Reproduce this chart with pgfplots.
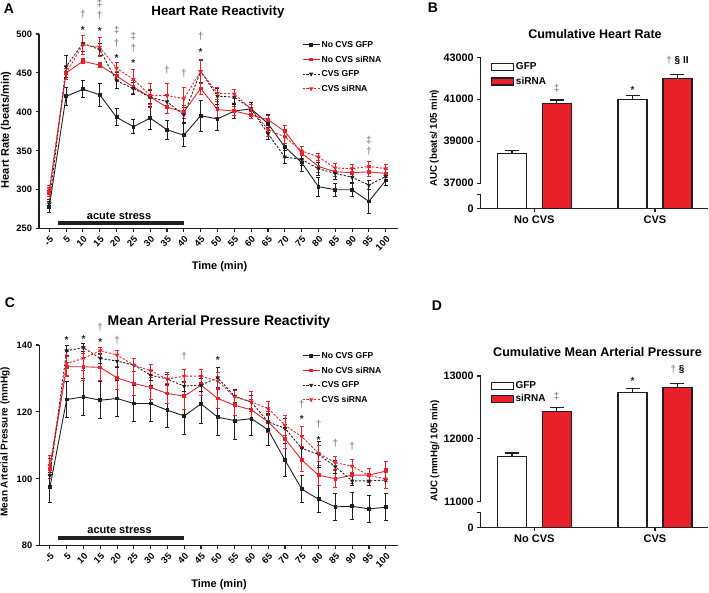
\documentclass[border=0pt]{standalone}
\usepackage{fontspec}
\setmainfont{Liberation Sans}
\usepackage{graphicx}
\usepackage{pgfplots}
\pgfplotsset{compat=1.18}

\definecolor{hrred}{HTML}{E8202A}
\definecolor{sig}{HTML}{8A8A8A}
\definecolor{ink}{HTML}{231F20}

\newcommand{\fs}[1]{\fontsize{#1}{#1}\selectfont\bfseries}

\pgfplotsset{
  panel/.style={
    scale only axis, anchor=south west,
    axis x line=bottom, axis y line=left,
    axis line style={-, line width=1.2pt, ink},
    tick align=outside, major tick length=3.5pt,
    every tick/.style={line width=1.1pt, ink},
    scaled ticks=false,
    /pgf/number format/assume math mode=true,
    /pgf/number format/1000 sep={},
  },
  timeaxis/.style={panel, clip=false,
    xmin=-0.61, xmax=20.73,
    xtick={0,...,20}, xticklabels={},
    yticklabel style={font=\fs{9.3}},
    legend style={at={(0.724,0.987)}, anchor=north west, draw=none, fill=none,
      font=\fs{8.6}, row sep=2.4pt,
      nodes={inner sep=1.5pt, text height=0.72em, text depth=0.2em}},
    legend cell align=left,
    every axis plot/.append style={line width=0.9pt,
      error bars/y dir=both, error bars/y explicit,
      error bars/error bar style={solid, line width=0.9pt},
      error bars/error mark options={solid, rotate=90, mark size=2pt, line width=0.9pt}},
  },
  baraxis/.style={panel, clip mode=individual,
    xmin=-0.444, xmax=1.439,
    xtick={0,1}, xticklabels={No CVS, CVS},
    xticklabel style={font=\fs{11}},
    yticklabel style={font=\fs{10.8}},
    y axis line style={draw=none},
    legend cell align=left,
    legend image code/.code={\draw[#1] (0pt,-3.5pt) rectangle (22pt,3.5pt);},
  },
  gfpbar/.style={ybar, bar width=29pt, bar shift=0pt, fill=white, draw=ink, line width=1.3pt,
    error bars/y dir=plus, error bars/y explicit, error bars/error bar style={line width=1.3pt, ink},
    error bars/error mark options={rotate=90, mark size=7pt, line width=1.3pt, ink}},
  sibar/.style={ybar, bar width=29pt, bar shift=0pt, fill=hrred, draw=ink, line width=1.3pt,
    error bars/y dir=plus, error bars/y explicit, error bars/error bar style={line width=1.3pt, ink},
    error bars/error mark options={rotate=90, mark size=7pt, line width=1.3pt, ink}},
  ngfp/.style={ink, mark=square*, mark size=1.4pt},
  nsi/.style={hrred, mark=square*, mark size=1.4pt},
  cgfp/.style={ink, dash pattern=on 2.2pt off 1.6pt, mark=triangle*, mark size=1.7pt, mark options={solid, rotate=180}},
  csi/.style={hrred, dash pattern=on 2.2pt off 1.6pt, mark=triangle*, mark size=1.7pt, mark options={solid, rotate=180}},
}

\tikzset{
  dg/.style={font=\fs{10}, text=sig, inner sep=0pt},
  st/.style={font=\fs{10}, text=ink, inner sep=0pt, yshift=-2pt},
  tl/.style={font=\fs{9.3}, anchor=north east, inner sep=0pt},
}

\begin{document}
\begin{tikzpicture}
\useasboundingbox (0,0) rectangle (709pt,592pt);

% ---------- A: heart rate ----------
\begin{axis}[timeaxis, at={(39pt,363.3pt)}, width=359pt, height=194.7pt,
  ymin=250, ymax=500, ytick={250,300,350,400,450,500}]
\addplot[ngfp] coordinates {
 (0,278)+-(0,7) (1,420)+-(0,12) (2,429)+-(0,11) (3,422)+-(0,15) (4,393)+-(0,11)
 (5,381)+-(0,9) (6,392)+-(0,15) (7,377)+-(0,12) (8,370)+-(0,15) (9,395)+-(0,20)
 (10,391)+-(0,15) (11,401)+-(0,10) (12,404)+-(0,8) (13,385)+-(0,12) (14,355)+-(0,14)
 (15,335)+-(0,12) (16,304)+-(0,12) (17,300)+-(0,8) (18,300)+-(0,8) (19,285)+-(0,15) (20,312)+-(0,6)};
\addlegendentry{No CVS GFP}
\addplot[nsi] coordinates {
 (0,297)+-(0,6) (1,450)+-(0,6) (2,465)+-(0,3) (3,460)+-(0,3) (4,446)+-(0,6)
 (5,432)+-(0,8) (6,419)+-(0,10) (7,406)+-(0,8) (8,400)+-(0,8) (9,430)+-(0,8)
 (10,403)+-(0,10) (11,401)+-(0,6) (12,396)+-(0,5) (13,390)+-(0,6) (14,375)+-(0,8)
 (15,347)+-(0,8) (16,330)+-(0,8) (17,323)+-(0,6) (18,322)+-(0,5) (19,323)+-(0,6) (20,321)+-(0,5)};
\addlegendentry{No CVS siRNA}
\addplot[cgfp] coordinates {
 (0,282)+-(0,6) (1,458)+-(0,14) (2,488)+-(0,10) (3,480)+-(0,8) (4,440)+-(0,10)
 (5,430)+-(0,8) (6,419)+-(0,8) (7,413)+-(0,8) (8,396)+-(0,10) (9,452)+-(0,14)
 (10,420)+-(0,10) (11,419)+-(0,10) (12,404)+-(0,6) (13,372)+-(0,8) (14,342)+-(0,8)
 (15,339)+-(0,8) (16,327)+-(0,8) (17,321)+-(0,8) (18,316)+-(0,6) (19,306)+-(0,6) (20,317)+-(0,5)};
\addlegendentry{CVS GFP}
\addplot[csi] coordinates {
 (0,300)+-(0,6) (1,450)+-(0,8) (2,486)+-(0,12) (3,483)+-(0,12) (4,456)+-(0,8)
 (5,442)+-(0,12) (6,421)+-(0,15) (7,421)+-(0,15) (8,417)+-(0,15) (9,452)+-(0,15)
 (10,424)+-(0,8) (11,423)+-(0,6) (12,404)+-(0,6) (13,377)+-(0,8) (14,368)+-(0,8)
 (15,350)+-(0,6) (16,342)+-(0,5) (17,328)+-(0,6) (18,327)+-(0,5) (19,330)+-(0,6) (20,327)+-(0,5)};
\addlegendentry{CVS siRNA}
\draw[line width=4pt, ink] (axis cs:0.5,257) -- (axis cs:8,257);
\node[font=\fs{11}, anchor=south, inner sep=1pt] at (axis cs:4.15,260) {acute stress};
\node[dg] at (axis cs:2,526) {†};   \node[st] at (axis cs:2,508) {*};
\node[dg] at (axis cs:3,539) {‡};   \node[dg] at (axis cs:3,524.7) {†}; \node[st] at (axis cs:3,506.7) {*};
\node[dg] at (axis cs:4,505) {‡};   \node[dg] at (axis cs:4,488.7) {†}; \node[st] at (axis cs:4,472) {*};
\node[dg] at (axis cs:5,497.7) {‡}; \node[dg] at (axis cs:5,482) {†};   \node[st] at (axis cs:5,465.6) {*};
\node[dg] at (axis cs:7,454) {†};
\node[dg] at (axis cs:8,449.7) {†};
\node[dg] at (axis cs:9,497.7) {†}; \node[st] at (axis cs:9,478.8) {*};
\node[dg] at (axis cs:19,364) {‡};  \node[dg] at (axis cs:19,349) {†};
\end{axis}
\foreach \l [count=\i from 0] in {-5,5,10,15,20,25,30,35,40,45,50,55,60,65,70,75,80,85,90,95,100}
  \node[tl] at ({39pt+(\i+0.61)*16.823pt+5pt}, 356.5pt) {\rotatebox{45}{\l}};

% ---------- C: mean arterial pressure ----------
\begin{axis}[timeaxis, at={(39.3pt,46.3pt)}, width=358.7pt, height=200.7pt,
  xmin=-0.63, ymin=80, ymax=140, ytick={80,100,120,140}]
\addplot[ngfp] coordinates {
 (0,97.4)+-(0,4.5) (1,123.7)+-(0,5.5) (2,124.5)+-(0,5.5) (3,123.5)+-(0,5.5) (4,124)+-(0,5.5)
 (5,122.5)+-(0,5.5) (6,122.5)+-(0,5.5) (7,120.5)+-(0,5) (8,118.8)+-(0,5.5) (9,122.4)+-(0,6)
 (10,118.4)+-(0,5.5) (11,117.4)+-(0,5.5) (12,118)+-(0,5) (13,114.6)+-(0,4.5) (14,105.6)+-(0,5)
 (15,96.9)+-(0,4) (16,93.9)+-(0,4) (17,91.6)+-(0,4) (18,91.8)+-(0,4) (19,91)+-(0,4) (20,91.5)+-(0,4)};
\addlegendentry{No CVS GFP}
\addplot[nsi] coordinates {
 (0,103)+-(0,3) (1,133.5)+-(0,3) (2,133.5)+-(0,4) (3,133.3)+-(0,4) (4,130.2)+-(0,3.5)
 (5,128.5)+-(0,3.5) (6,127.3)+-(0,3.5) (7,125.5)+-(0,3) (8,124.7)+-(0,4) (9,128)+-(0,3)
 (10,124)+-(0,3) (11,122)+-(0,3) (12,120.6)+-(0,3) (13,117)+-(0,3) (14,112)+-(0,3)
 (15,105.6)+-(0,3.5) (16,101.1)+-(0,3) (17,100)+-(0,2.5) (18,101.1)+-(0,2.5) (19,101.1)+-(0,2) (20,102.3)+-(0,3)};
\addlegendentry{No CVS siRNA}
\addplot[cgfp] coordinates {
 (0,101)+-(0,3) (1,138.3)+-(0,1.5) (2,139.2)+-(0,1.2) (3,136)+-(0,1.5) (4,135.2)+-(0,2)
 (5,134)+-(0,2) (6,131)+-(0,1.5) (7,129.8)+-(0,1.5) (8,127.7)+-(0,1.5) (9,128)+-(0,2)
 (10,130.2)+-(0,3) (11,124.7)+-(0,2) (12,122.9)+-(0,2) (13,117)+-(0,2.5) (14,115.1)+-(0,3)
 (15,109.1)+-(0,4) (16,107.3)+-(0,4) (17,103.6)+-(0,2) (18,99.4)+-(0,1.5) (19,99.4)+-(0,1.5) (20,99.6)+-(0,2.5)};
\addlegendentry{CVS GFP}
\addplot[csi] coordinates {
 (0,104)+-(0,3) (1,134.5)+-(0,3.5) (2,136)+-(0,3.5) (3,138.3)+-(0,1) (4,137)+-(0,1.5)
 (5,134)+-(0,2) (6,132.3)+-(0,2) (7,129.8)+-(0,2) (8,130.7)+-(0,2) (9,130.7)+-(0,2)
 (10,129.2)+-(0,2.5) (11,124.5)+-(0,2) (12,123)+-(0,3) (13,121)+-(0,2) (14,116)+-(0,3)
 (15,112.6)+-(0,3) (16,107.6)+-(0,2.5) (17,104.8)+-(0,2) (18,103.8)+-(0,2) (19,101)+-(0,2) (20,100)+-(0,3)};
\addlegendentry{CVS siRNA}
\draw[line width=4pt, ink] (axis cs:0.5,82.4) -- (axis cs:8,82.4);
\node[font=\fs{11}, anchor=south, inner sep=1pt] at (axis cs:4.15,83.3) {acute stress};
\node[st] at (axis cs:1,142.2) {*};
\node[st] at (axis cs:2,142.5) {*};
\node[dg] at (axis cs:3,145.2) {†}; \node[st] at (axis cs:3,141.5) {*};
\node[dg] at (axis cs:4,141.5) {†};
\node[dg] at (axis cs:8,136.7) {†};
\node[st] at (axis cs:10,136) {*};
\node[dg] at (axis cs:15,122.4) {†}; \node[st] at (axis cs:15,118.4) {*};
\node[dg] at (axis cs:16,116.4) {†}; \node[st] at (axis cs:16,112.1) {*};
\node[dg] at (axis cs:17,110.6) {†};
\node[dg] at (axis cs:18,109.8) {†};
\end{axis}
\foreach \l [count=\i from 0] in {-5,5,10,15,20,25,30,35,40,45,50,55,60,65,70,75,80,85,90,95,100}
  \node[tl] at ({39.3pt+(\i+0.63)*16.793pt+5pt}, 39.5pt) {\rotatebox{45}{\l}};

% ---------- B: cumulative heart rate ----------
\begin{axis}[baraxis, at={(480.7pt,383.7pt)}, width=227.3pt, height=151pt,
  ymin=35800, ymax=43000,
  ytick={35800,37000,39000,41000,43000}, yticklabels={0,37000,39000,41000,43000},
  legend style={at={(0.032,0.99)}, anchor=north west, draw=none, fill=none, font=\fs{10},
    row sep=2.1pt, nodes={inner sep=1.5pt, text height=0.72em, text depth=0.2em}}]
\addplot[gfpbar] coordinates {(-0.186,38400)+-(0,163) (0.814,40995)+-(0,175)};
\addlegendentry{GFP}
\addplot[sibar] coordinates {(0.186,40790)+-(0,172) (1.186,42000)+-(0,194)};
\addlegendentry{siRNA}
\draw[line width=1.2pt, ink] (axis cs:-0.444,43000) -- (axis cs:-0.444,37000);
\draw[line width=1.2pt, ink] (axis cs:-0.444,36472) -- (axis cs:-0.444,35800);
\draw[line width=1.1pt, ink] (axis cs:-0.444,36472) -- ([xshift=-3.5pt]axis cs:-0.444,36472);
\node[dg] at (axis cs:0.186,41508) {‡};
\node[st] at (axis cs:0.814,41556) {*};
\node[font=\fs{10}, inner sep=0pt] at (axis cs:1.186,42866) {\textcolor{sig}{†} § II};
\end{axis}

% ---------- D: cumulative MAP ----------
\begin{axis}[baraxis, at={(480.7pt,64.7pt)}, width=227.3pt, height=151.3pt,
  ymin=10592, ymax=13000,
  ytick={10592,11000,12000,13000}, yticklabels={0,11000,12000,13000},
  legend style={at={(0.03,0.987)}, anchor=north west, draw=none, fill=none, font=\fs{10},
    row sep=0.5pt, nodes={inner sep=1.5pt, text height=0.72em, text depth=0.2em}}]
\addplot[gfpbar] coordinates {(-0.186,11723)+-(0,53) (0.814,12733)+-(0,64)};
\addlegendentry{GFP}
\addplot[sibar] coordinates {(0.186,12435)+-(0,63) (1.186,12822)+-(0,58)};
\addlegendentry{siRNA}
\draw[line width=1.2pt, ink] (axis cs:-0.444,13000) -- (axis cs:-0.444,11000);
\draw[line width=1.2pt, ink] (axis cs:-0.444,10831) -- (axis cs:-0.444,10592);
\draw[line width=1.1pt, ink] (axis cs:-0.444,10831) -- ([xshift=-3.5pt]axis cs:-0.444,10831);
\node[dg] at (axis cs:0.186,12678) {‡};
\node[st] at (axis cs:0.814,12944) {*};
\node[font=\fs{10}, inner sep=0pt] at (axis cs:1.186,13103) {\textcolor{sig}{†} §};
\end{axis}

% ---------- titles, labels, panel letters ----------
\node[font=\fs{14}] at (9pt,583pt) {A};
\node[font=\fs{14}] at (433pt,584pt) {B};
\node[font=\fs{14}] at (10pt,289pt) {C};
\node[font=\fs{14}] at (437pt,286pt) {D};
\node[font=\fs{13.3}] at (218pt,579.5pt) {Heart Rate Reactivity};
\node[font=\fs{12.5}] at (595pt,557.7pt) {Cumulative Heart Rate};
\node[font=\fs{14}] at (219pt,270.3pt) {Mean Arterial Pressure Reactivity};
\node[font=\fs{12.6}] at (597.5pt,239.7pt) {Cumulative Mean Arterial Pressure};
\node[font=\fs{11}, rotate=90] at (6pt,462.3pt) {Heart Rate (beats/min)};
\node[font=\fs{9.7}, rotate=90] at (434.3pt,453.7pt) {AUC (beats/ 105 min)};
\node[font=\fs{10}, rotate=90] at (5pt,150.3pt) {Mean Arterial Pressure (mmHg)};
\node[font=\fs{9.7}, rotate=90] at (435pt,141.2pt) {AUC (mmHg/ 105 min)};
\node[font=\fs{11}] at (219.5pt,325.3pt) {Time (min)};
\node[font=\fs{11}] at (219pt,7pt) {Time (min)};
\end{tikzpicture}
\end{document}
